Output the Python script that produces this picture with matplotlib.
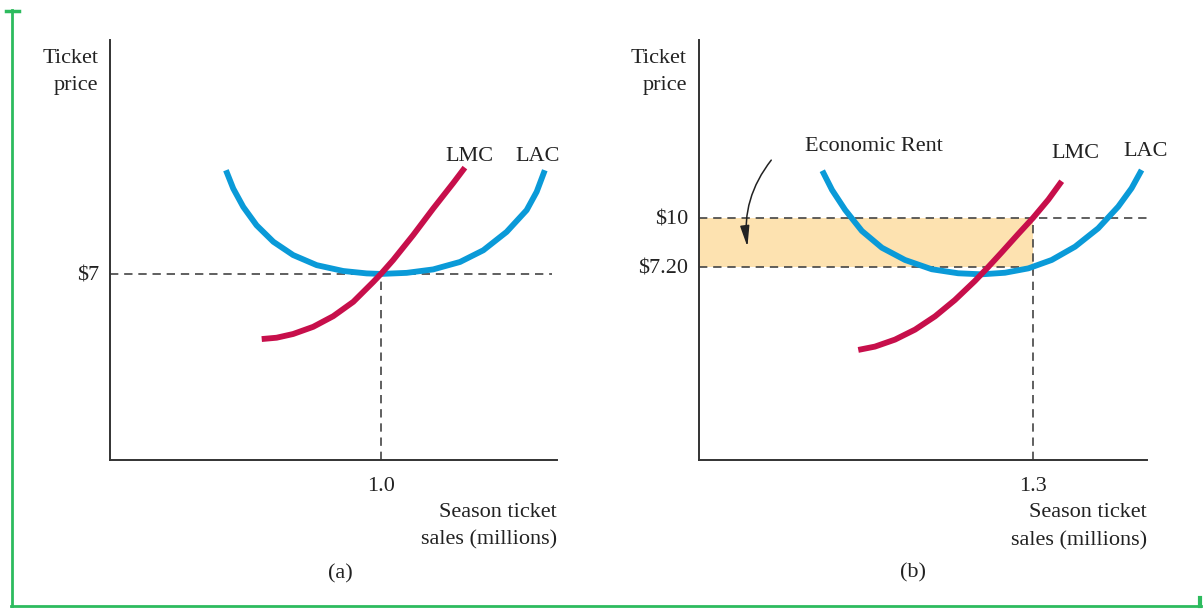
import matplotlib.pyplot as plt
from matplotlib.lines import Line2D

plt.rcParams['font.family'] = ['Liberation Serif', 'DejaVu Serif']

# panel (a): quantity in millions, price in $
lac_a_x = [0.428, 0.455, 0.492, 0.541, 0.603, 0.676, 0.763, 0.861, 0.947, 1.000,
           1.095, 1.193, 1.292, 1.378, 1.464, 1.538, 1.575, 1.605]
lac_a_y = [10.90, 10.21, 9.52, 8.83, 8.21, 7.71, 7.33, 7.11, 7.02, 7.00,
           7.04, 7.17, 7.45, 7.89, 8.58, 9.40, 10.09, 10.90]
lmc_a_x = [0.560, 0.615, 0.676, 0.750, 0.824, 0.898, 0.972, 1.000, 1.045, 1.119, 1.193, 1.267, 1.310]
lmc_a_y = [4.55, 4.60, 4.74, 5.01, 5.41, 5.95, 6.70, 7.00, 7.52, 8.46, 9.46, 10.42, 11.00]
price_a = 7.0
qty_a = 1.0

# panel (b)
lac_b_x = [0.480, 0.518, 0.569, 0.634, 0.712, 0.802, 0.906, 1.009, 1.100, 1.191,
           1.282, 1.373, 1.464, 1.554, 1.632, 1.684, 1.723]
lac_b_y = [12.70, 11.60, 10.46, 9.26, 8.30, 7.60, 7.07, 6.84, 6.78, 6.87,
           7.12, 7.60, 8.36, 9.41, 10.65, 11.70, 12.74]
lmc_b_x = [0.620, 0.685, 0.763, 0.841, 0.919, 0.996, 1.074, 1.126, 1.178, 1.243, 1.300, 1.360, 1.412]
lmc_b_y = [2.46, 2.65, 3.05, 3.62, 4.38, 5.31, 6.40, 7.20, 8.03, 9.09, 10.00, 11.05, 12.10]
price_b = 10.0
lac_at_qb = 7.20
qty_b = 1.3

BLUE = '#0a9ad8'
RED = '#c70f4b'
DASH = '#444444'
FILL = '#fde2b0'
TXT = '#222222'
FS = 16
LS = 1.6

fig = plt.figure(figsize=(12.04, 6.11), dpi=100)
W, H = 1204, 611


def make_ax(left, width):
    ax = fig.add_axes([left / W, (H - 460) / H, width / W, 420 / H])
    for s in ['top', 'right']:
        ax.spines[s].set_visible(False)
    for s in ['left', 'bottom']:
        ax.spines[s].set_color('#333333')
        ax.spines[s].set_linewidth(1.4)
    ax.tick_params(length=0, labelsize=FS, colors=TXT)
    ax.tick_params(axis='y', pad=8)
    ax.tick_params(axis='x', pad=12)
    ax.patch.set_alpha(0)
    return ax


def curve(ax, x, y, c):
    ax.plot(x, y, color=c, lw=4.2, solid_capstyle='butt', solid_joinstyle='round', zorder=3)


dash = (0, (5, 3.5))

# ---- (a)
ax1 = make_ax(110, 447)
ax1.set_xlim(0, 1.65)
ax1.set_ylim(0, 15.8)
ax1.plot([0, 1.632], [price_a, price_a], ls=dash, color=DASH, lw=1.2, zorder=1)
ax1.plot([qty_a, qty_a], [0, price_a], ls=dash, color=DASH, lw=1.2, zorder=1)
curve(ax1, lac_a_x, lac_a_y, BLUE)
curve(ax1, lmc_a_x, lmc_a_y, RED)
ax1.set_yticks([price_a])
ax1.set_yticklabels(['\\$7'])
ax1.set_xticks([qty_a])
ax1.set_xticklabels(['1.0'])
ax1.text(1.328, 11.4, 'LMC', fontsize=FS, ha='center', va='center', color=TXT)
ax1.text(1.579, 11.4, 'LAC', fontsize=FS, ha='center', va='center', color=TXT)
ax1.text(-0.044, 15.48, 'Ticket\nprice', fontsize=FS, ha='right', va='top', linespacing=LS, color=TXT)
ax1.text(1.65, -1.6, 'Season ticket\nsales (millions)', fontsize=FS, ha='right', va='top',
         linespacing=LS, color=TXT)
ax1.text(0.849, -4.3, '(a)', fontsize=FS, ha='center', va='center', color=TXT)

# ---- (b)
ax2 = make_ax(699, 448)
ax2.set_xlim(0, 1.744)
ax2.set_ylim(-3.83, 20.17)
ax2.fill_between([0, qty_b], lac_at_qb, price_b, color=FILL, lw=0, zorder=0)
ax2.plot([0, 1.744], [price_b, price_b], ls=dash, color=DASH, lw=1.2, zorder=1)
ax2.plot([0, qty_b], [lac_at_qb, lac_at_qb], ls=dash, color=DASH, lw=1.2, zorder=1)
ax2.plot([qty_b, qty_b], [-3.83, price_b], ls=dash, color=DASH, lw=1.2, zorder=1)
curve(ax2, lac_b_x, lac_b_y, BLUE)
curve(ax2, lmc_b_x, lmc_b_y, RED)
ax2.set_yticks([lac_at_qb, price_b])
ax2.set_yticklabels(['\\$7.20', '\\$10'])
ax2.set_xticks([qty_b])
ax2.set_xticklabels(['1.3'])
ax2.text(1.467, 13.7, 'LMC', fontsize=FS, ha='center', va='center', color=TXT)
ax2.text(1.74, 13.82, 'LAC', fontsize=FS, ha='center', va='center', color=TXT)
ax2.text(0.681, 14.1, 'Economic Rent', fontsize=FS, ha='center', va='center', color=TXT)
ax2.annotate('', xy=(0.19, 8.2), xytext=(0.288, 13.43),
             arrowprops=dict(arrowstyle='-|>,head_length=0.9,head_width=0.2', color=TXT, lw=1.1,
                             connectionstyle='arc3,rad=0.22', mutation_scale=14))
ax2.text(-0.047, 19.66, 'Ticket\nprice', fontsize=FS, ha='right', va='top', linespacing=LS, color=TXT)
ax2.text(1.744, -6.3, 'Season ticket\nsales (millions)', fontsize=FS, ha='right', va='top',
         linespacing=LS, color=TXT)
ax2.text(0.833, -10.3, '(b)', fontsize=FS, ha='center', va='center', color=TXT)

# green frame
G = '#2dbb5e'
fig.add_artist(Line2D([12 / W, 12 / W], [1 - 10 / H, 1 - 606 / H], color=G, lw=2))
fig.add_artist(Line2D([6 / W, 19 / W], [1 - 11 / H, 1 - 11 / H], color=G, lw=2.5))
fig.add_artist(Line2D([11 / W, 1201 / W], [1 - 606 / H, 1 - 606 / H], color=G, lw=2))
fig.add_artist(Line2D([1200 / W, 1200 / W], [1 - 598 / H, 1 - 606 / H], color=G, lw=3))

fig.savefig('out.png', dpi=100)
